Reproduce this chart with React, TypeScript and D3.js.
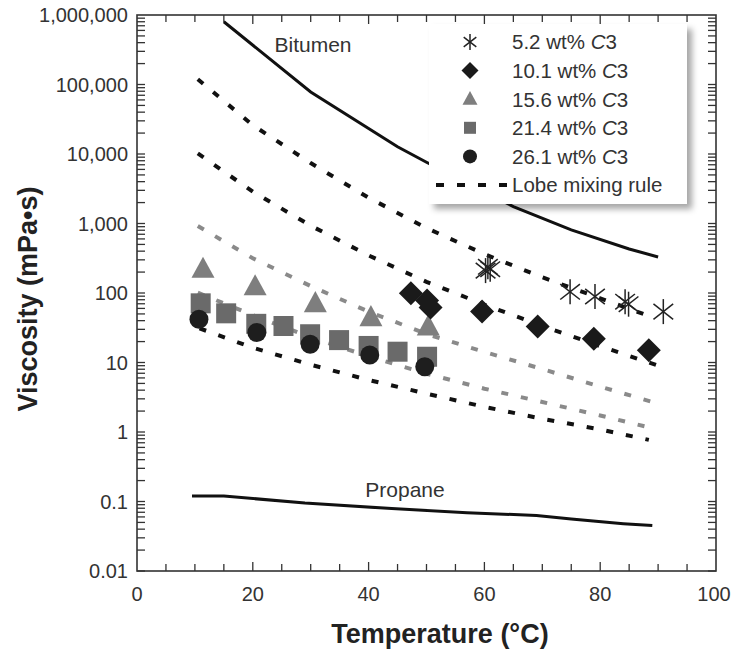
import React from "react";
import * as d3 from "d3";

// ---- data ----
const xTicks = [0, 20, 40, 60, 80, 100];
const yTicks = [0.01, 0.1, 1, 10, 100, 1000, 10000, 100000, 1000000];

const bitumen: [number, number][] = [[15, 800000], [30, 78000], [45, 12700], [50, 7600], [65, 1750], [75, 810], [85, 430], [90, 330]];
const propane: [number, number][] = [[9.5, 0.12], [15, 0.12], [29, 0.095], [44, 0.079], [57, 0.069], [69, 0.063], [75, 0.056], [84, 0.048], [89, 0.045]];

const lobe52: [number, number][] = [[10.5, 119000], [20, 26000], [30, 7400], [40, 2350], [50, 860], [60, 363], [70, 168], [80, 84], [88, 48]];
const lobe101: [number, number][] = [[10.5, 10200], [20, 2870], [30, 930], [40, 347], [50, 145], [60, 68], [70, 33.5], [80, 17.2], [90, 9]];
const lobe156: [number, number][] = [[10.5, 920], [20, 316], [30, 126], [40, 54], [50, 25.7], [60, 14.2], [70, 8.05], [80, 4.5], [89.5, 2.63]];
const lobe214: [number, number][] = [[10.5, 101], [20, 48], [30, 23], [40, 12.3], [50, 6.9], [60, 4.2], [70, 2.7], [80, 1.73], [88, 1.19]];
const lobe261: [number, number][] = [[10.8, 31], [20, 16.3], [30, 9.3], [40, 5.6], [50, 3.56], [60, 2.3], [70, 1.55], [80, 1.09], [88.4, 0.77]];

const c52: [number, number][] = [[60.2, 210], [60.6, 238], [61, 220], [74.8, 104], [79.1, 89], [84.3, 75], [84.9, 69], [90.9, 54]];
const c101: [number, number][] = [[47.3, 99], [50.1, 78], [50.7, 62], [59.6, 54], [69.2, 33], [78.9, 22], [88.4, 15]];
const c156: [number, number][] = [[11.4, 209], [20.4, 117], [30.8, 67], [40.4, 42], [50.3, 31]];
const c214: [number, number][] = [[11, 71], [15.4, 51], [20.6, 36], [25.3, 33.5], [29.9, 25.5], [34.9, 21], [40, 17.3], [45, 14.3], [50.1, 12.1]];
const c261: [number, number][] = [[10.7, 42], [20.7, 27], [29.9, 18.3], [40.2, 12.8], [49.7, 8.7]];

const legendLabels = ["5.2 wt% ", "10.1 wt% ", "15.6 wt% ", "21.4 wt% ", "26.1 wt% "];

const FONT = "'Liberation Sans', Arial, Helvetica, sans-serif";

export default function App() {
  const L = 137, R = 716, T = 15, B = 571;
  const x = d3.scaleLinear().domain([0, 100]).range([L, R]);
  const y = d3.scaleLog().domain([0.01, 1e6]).range([B, T]);
  const line = d3.line<[number, number]>().x(d => x(d[0])).y(d => y(d[1]));

  const minorY: number[] = [];
  for (let e = -2; e < 6; e++) for (let k = 1; k <= 9; k++) minorY.push(k * Math.pow(10, e));
  const xMinor = d3.range(5, 100, 5);

  const fmt = (v: number) => (v >= 1000 ? d3.format(",")(v) : String(v));

  const asterisk = (cx: number, cy: number, s: number, key: any, sw = 1.5) => {
    const a = (38 * Math.PI) / 180;
    const dx = Math.cos(a) * s, dy = Math.sin(a) * s;
    return (
      <g key={key} stroke="#222" strokeWidth={sw} fill="none">
        <line x1={cx} y1={cy - s} x2={cx} y2={cy + s} />
        <line x1={cx - dx} y1={cy - dy} x2={cx + dx} y2={cy + dy} />
        <line x1={cx - dx} y1={cy + dy} x2={cx + dx} y2={cy - dy} />
      </g>
    );
  };
  const diamond = (cx: number, cy: number, s: number, key: any) => (
    <path key={key} d={`M${cx},${cy - s}L${cx + s},${cy}L${cx},${cy + s}L${cx - s},${cy}Z`} fill="#1a1a1a" />
  );
  const triangle = (cx: number, cy: number, w: number, key: any) => {
    const h = w * 0.92;
    return <path key={key} d={`M${cx},${cy - (2 * h) / 3}L${cx + w / 2},${cy + h / 3}L${cx - w / 2},${cy + h / 3}Z`} fill="#7e7e7e" />;
  };
  const square = (cx: number, cy: number, s: number, key: any) => (
    <rect key={key} x={cx - s / 2} y={cy - s / 2} width={s} height={s} fill="#6a6a6a" />
  );
  const circle = (cx: number, cy: number, r: number, key: any) => <circle key={key} cx={cx} cy={cy} r={r} fill="#1e1e1e" />;

  const dashStyle = { strokeWidth: 4, strokeDasharray: "7,13", fill: "none" } as const;

  const legX = 470, legTX = 512, legY0 = 42, legDY = 28.6;

  return (
    <svg width={733} height={656} style={{ position: "absolute", left: 0, top: 0, background: "#fff" }} fontFamily={FONT}>
      <defs>
        <filter id="sh" x="-10%" y="-10%" width="130%" height="130%">
          <feDropShadow dx="5" dy="5" stdDeviation="3" floodColor="#000" floodOpacity="0.35" />
        </filter>
        <clipPath id="plot"><rect x={L} y={T} width={R - L} height={B - T} /></clipPath>
      </defs>

      {/* frame & ticks */}
      <g stroke="#333" strokeWidth={1.3}>
        {minorY.map((v, i) => (
          <g key={i}>
            <line x1={L} x2={L + 8} y1={y(v)} y2={y(v)} />
            <line x1={R} x2={R - 8} y1={y(v)} y2={y(v)} />
          </g>
        ))}
        {xMinor.map((v, i) => (
          <g key={i}>
            <line x1={x(v)} x2={x(v)} y1={B} y2={B - (v % 20 === 0 ? 9 : 7)} />
            <line x1={x(v)} x2={x(v)} y1={T} y2={T + (v % 20 === 0 ? 9 : 7)} />
          </g>
        ))}
      </g>
      <rect x={L} y={T} width={R - L} height={B - T} fill="none" stroke="#333" strokeWidth={1.6} />

      {/* tick labels */}
      <g fill="#333" fontSize={20}>
        {yTicks.map((v, i) => (
          <text key={i} x={128} y={y(v)} dy="0.36em" textAnchor="end">{fmt(v)}</text>
        ))}
        {xTicks.map((v, i) => (
          <text key={i} x={Math.min(x(v), 714)} y={601} textAnchor="middle">{v}</text>
        ))}
      </g>

      {/* axis titles */}
      <text x={440} y={643} textAnchor="middle" fontSize={27} fontWeight="bold" fill="#222">Temperature (°C)</text>
      <text transform={`translate(37,299) rotate(-90)`} textAnchor="middle" fontSize={27} fontWeight="bold" fill="#222">Viscosity (mPa•s)</text>

      <g clipPath="url(#plot)">
        {/* pure component lines */}
        <path d={line(bitumen) || ""} fill="none" stroke="#111" strokeWidth={3} />
        <path d={line(propane) || ""} fill="none" stroke="#111" strokeWidth={3} />

        {/* lobe mixing rule lines */}
        <path d={line(lobe52) || ""} stroke="#111" {...dashStyle} />
        <path d={line(lobe101) || ""} stroke="#111" {...dashStyle} />
        <path d={line(lobe156) || ""} stroke="#8a8a8a" {...dashStyle} />
        <path d={line(lobe214) || ""} stroke="#8a8a8a" {...dashStyle} />
        <path d={line(lobe261) || ""} stroke="#111" {...dashStyle} />

        {/* measured points */}
        {c214.map((d, i) => square(x(d[0]), y(d[1]), 20, "s" + i))}
        {c156.map((d, i) => triangle(x(d[0]), y(d[1]), 23, "t" + i))}
        {c261.map((d, i) => circle(x(d[0]), y(d[1]), 9.5, "c" + i))}
        {c101.map((d, i) => diamond(x(d[0]), y(d[1]), 12, "d" + i))}
        {c52.map((d, i) => asterisk(x(d[0]), y(d[1]), 12.5, "a" + i))}
      </g>

      <text x={313} y={52} textAnchor="middle" fontSize={21} fill="#333">Bitumen</text>
      <text x={405} y={497} textAnchor="middle" fontSize={21} fill="#333">Propane</text>

      {/* legend */}
      <rect x={429} y={24} width={258} height={180} fill="#fff" filter="url(#sh)" />
      <g fontSize={20.5} fill="#333">
        {asterisk(legX, legY0, 8, "la", 1.5)}
        {diamond(legX, legY0 + legDY, 8.5, "ld")}
        {triangle(legX, legY0 + 2 * legDY + 1, 15, "lt")}
        {square(legX, legY0 + 3 * legDY, 12, "ls")}
        {circle(legX, legY0 + 4 * legDY, 7, "lc")}
        {legendLabels.map((t, i) => (
          <text key={i} x={legTX} y={legY0 + i * legDY} dy="0.36em">
            {t}<tspan fontStyle="italic">C</tspan>3
          </text>
        ))}
        <line x1={436} x2={507} y1={legY0 + 5 * legDY} y2={legY0 + 5 * legDY} stroke="#111" strokeWidth={4} strokeDasharray="8,13" />
        <text x={legTX} y={legY0 + 5 * legDY} dy="0.36em">Lobe mixing rule</text>
      </g>
    </svg>
  );
}
